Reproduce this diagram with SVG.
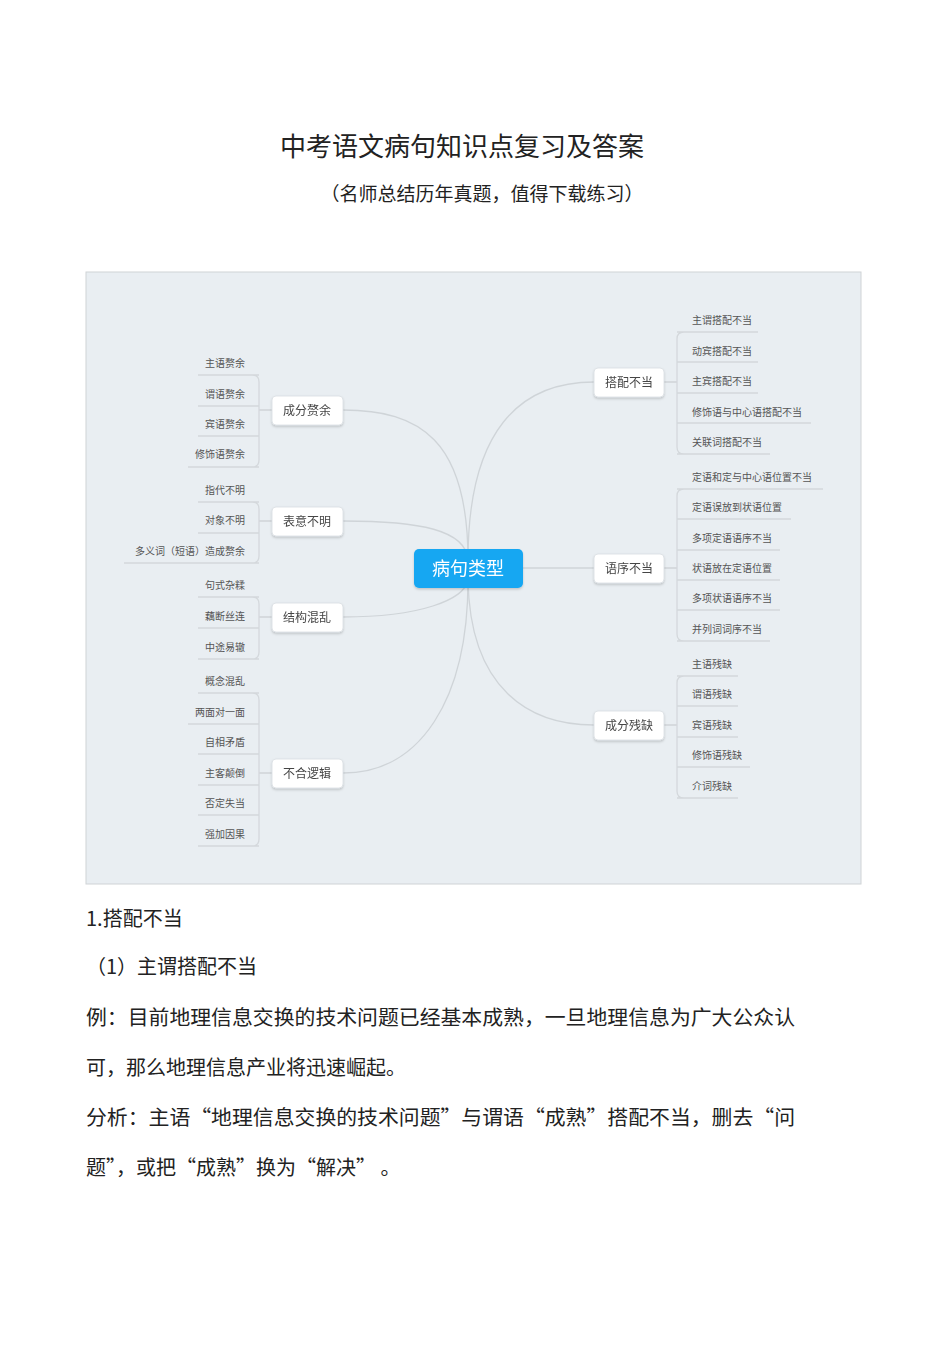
<svg xmlns="http://www.w3.org/2000/svg" width="950" height="1345" viewBox="0 0 950 1345">
<style>
text{font-family:"Noto Sans CJK SC","Liberation Sans",sans-serif}
.t{fill:#222}
.lf{font-size:10px;fill:#555}
.l{text-anchor:end}
.br{fill:none;stroke:#d4d8dc;stroke-width:1.3}
.mn rect{fill:#fff;stroke:#d8dde2;stroke-width:0.8}
.mn text{font-size:12px;fill:#444;text-anchor:middle}
.cn path{fill:none;stroke:#cfd4d8;stroke-width:1.3}
</style>
<defs><filter id="sh" x="-20%" y="-20%" width="140%" height="160%"><feDropShadow dx="0" dy="1.5" stdDeviation="1.2" flood-color="#000" flood-opacity="0.18"/></filter></defs>
<rect width="950" height="1345" fill="#fff"/>
<text class="t" x="462" y="156" font-size="26" text-anchor="middle">中考语文病句知识点复习及答案</text>
<text class="t" x="482" y="201" font-size="19" text-anchor="middle">（名师总结历年真题，值得下载练习）</text>
<rect x="86" y="272" width="775" height="612" fill="#e9eef2" stroke="#cfd3d6" stroke-width="1"/>
<g class="cn">
<path d="M468,560 C468,430 520,382 594,382"/>
<path d="M523,568 L594,568"/>
<path d="M468,580 C470,690 530,725 594,725"/>
<path d="M468,560 C468,440 420,410 343,410"/>
<path d="M468,560 C466,530 420,521 343,521"/>
<path d="M468,580 C464,600 420,617 343,617"/>
<path d="M468,580 C468,700 420,773 343,773"/>
<path d="M664,382 H677 M664,568 H677 M664,725 H677 M259,410 H272 M259,521 H272 M259,617 H272 M259,773 H272"/>
</g>
<g id="center" filter="url(#sh)"><rect x="414" y="549" width="109" height="39" rx="5" fill="#19a7f2"/><text x="468" y="575" font-size="18" fill="#fff" text-anchor="middle">病句类型</text></g>
<g id="m1" class="mn" filter="url(#sh)"><rect x="594" y="368" width="70" height="29" rx="4"/><text x="629" y="387">搭配不当</text></g>
<g id="m2" class="mn" filter="url(#sh)"><rect x="594" y="554" width="70" height="29" rx="4"/><text x="629" y="573">语序不当</text></g>
<g id="m3" class="mn" filter="url(#sh)"><rect x="594" y="711" width="70" height="29" rx="4"/><text x="629" y="730">成分残缺</text></g>
<g id="m4" class="mn" filter="url(#sh)"><rect x="272" y="396" width="71" height="29" rx="4"/><text x="307" y="415">成分赘余</text></g>
<g id="m5" class="mn" filter="url(#sh)"><rect x="272" y="507" width="71" height="29" rx="4"/><text x="307" y="526">表意不明</text></g>
<g id="m6" class="mn" filter="url(#sh)"><rect x="272" y="603" width="71" height="29" rx="4"/><text x="307" y="622">结构混乱</text></g>
<g id="m7" class="mn" filter="url(#sh)"><rect x="272" y="759" width="71" height="29" rx="4"/><text x="307" y="778">不合逻辑</text></g>
<g id="r1">
<path class="br" d="M684,332 Q677,332 677,339 V447 Q677,454 684,454 M677,332 H758 M677,362 H758 M677,393 H758 M677,423 H811 M677,454 H770"/>
<text class="lf" x="692" y="324">主谓搭配不当</text><text class="lf" x="692" y="355">动宾搭配不当</text><text class="lf" x="692" y="385">主宾搭配不当</text><text class="lf" x="692" y="416">修饰语与中心语搭配不当</text><text class="lf" x="692" y="446">关联词搭配不当</text>
</g>
<g id="r2">
<path class="br" d="M684,489 Q677,489 677,496 V634 Q677,641 684,641 M677,489 H823 M677,519 H791 M677,550 H780 M677,580 H780 M677,610 H780 M677,641 H770"/>
<text class="lf" x="692" y="481">定语和定与中心语位置不当</text><text class="lf" x="692" y="511">定语误放到状语位置</text><text class="lf" x="692" y="542">多项定语语序不当</text><text class="lf" x="692" y="572">状语放在定语位置</text><text class="lf" x="692" y="602">多项状语语序不当</text><text class="lf" x="692" y="633">并列词词序不当</text>
</g>
<g id="r3">
<path class="br" d="M684,676 Q677,676 677,683 V791 Q677,798 684,798 M677,676 H738 M677,706 H738 M677,737 H738 M677,767 H750 M677,798 H738"/>
<text class="lf" x="692" y="668">主语残缺</text><text class="lf" x="692" y="698">谓语残缺</text><text class="lf" x="692" y="729">宾语残缺</text><text class="lf" x="692" y="759">修饰语残缺</text><text class="lf" x="692" y="790">介词残缺</text>
</g>
<g id="l1">
<path class="br" d="M252,375 Q259,375 259,382 V460 Q259,467 252,467 M259,375 H198 M259,406 H198 M259,436 H198 M259,467 H188"/>
<text class="lf l" x="245" y="367">主语赘余</text><text class="lf l" x="245" y="398">谓语赘余</text><text class="lf l" x="245" y="428">宾语赘余</text><text class="lf l" x="245" y="458">修饰语赘余</text>
</g>
<g id="l2">
<path class="br" d="M252,502 Q259,502 259,509 V556 Q259,563 252,563 M259,502 H198 M259,533 H198 M259,563 H124"/>
<text class="lf l" x="245" y="494">指代不明</text><text class="lf l" x="245" y="524">对象不明</text><text class="lf l" x="245" y="555">多义词（短语）造成赘余</text>
</g>
<g id="l3">
<path class="br" d="M252,597 Q259,597 259,604 V652 Q259,659 252,659 M259,597 H198 M259,628 H198 M259,659 H198"/>
<text class="lf l" x="245" y="589">句式杂糅</text><text class="lf l" x="245" y="620">藕断丝连</text><text class="lf l" x="245" y="651">中途易辙</text>
</g>
<g id="l4">
<path class="br" d="M252,693 Q259,693 259,700 V839 Q259,846 252,846 M259,693 H198 M259,724 H188 M259,754 H198 M259,785 H198 M259,815 H198 M259,846 H198"/>
<text class="lf l" x="245" y="685">概念混乱</text><text class="lf l" x="245" y="716">两面对一面</text><text class="lf l" x="245" y="746">自相矛盾</text><text class="lf l" x="245" y="777">主客颠倒</text><text class="lf l" x="245" y="807">否定失当</text><text class="lf l" x="245" y="838">强加因果</text>
</g>
<g font-size="20" class="t">
<text class="t" x="86" y="926">1.搭配不当</text>
<text class="t" x="86" y="974">（1）主谓搭配不当</text>
<text class="t" x="86" y="1025" textLength="709" lengthAdjust="spacingAndGlyphs">例：目前地理信息交换的技术问题已经基本成熟，一旦地理信息为广大公众认</text>
<text class="t" x="86" y="1075">可，那么地理信息产业将迅速崛起。</text>
<text class="t" x="86" y="1125" textLength="709" lengthAdjust="spacingAndGlyphs">分析：主语“地理信息交换的技术问题”与谓语“成熟”搭配不当，删去“问</text>
<text class="t" x="86" y="1175">题”，或把“成熟”换为“解决” 。</text>
</g>
</svg>
